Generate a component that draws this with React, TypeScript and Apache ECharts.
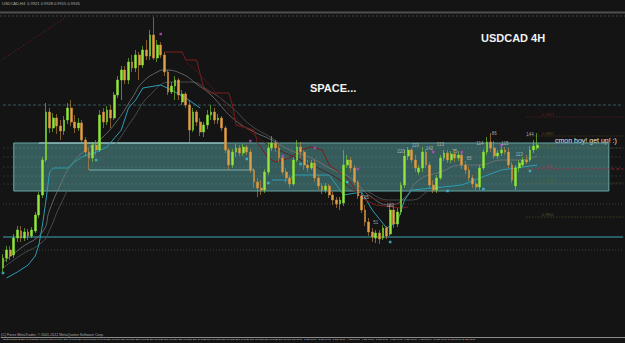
import React, { useEffect, useRef } from "react";
import * as echarts from "echarts";

const BG = "#141414";

const opens = [
  0.9750, 0.9760, 0.9768, 0.9763, 0.9780, 0.9787, 0.9780, 0.9786, 0.9782, 0.9787,
  0.9803, 0.9823, 0.9858, 0.9906, 0.9890, 0.9900, 0.9892, 0.9887, 0.9898, 0.9910,
  0.9896, 0.9890, 0.9895, 0.9878, 0.9866, 0.9860, 0.9873, 0.9868, 0.9906, 0.9896,
  0.9908, 0.9900, 0.9923, 0.9938, 0.9948, 0.9938, 0.9956, 0.9950, 0.9963, 0.9953,
  0.9968, 0.9962, 0.9983, 0.9960, 0.9973, 0.9963, 0.9946, 0.9926, 0.9932, 0.9938,
  0.9916, 0.9924, 0.9913, 0.9888, 0.9906, 0.9896, 0.9886, 0.9893, 0.9903, 0.9906,
  0.9898, 0.9900, 0.9890, 0.9868, 0.9853, 0.9866, 0.9870, 0.9865, 0.9871, 0.9866,
  0.9848, 0.9836, 0.9830, 0.9828, 0.9846, 0.9870, 0.9875, 0.9870, 0.9860, 0.9846,
  0.9840, 0.9834, 0.9858, 0.9871, 0.9866, 0.9853, 0.9850, 0.9855, 0.9840, 0.9832,
  0.9828, 0.9832, 0.9823, 0.9818, 0.9814, 0.9815, 0.9853, 0.9858, 0.9850, 0.9836,
  0.9822, 0.9808, 0.9796, 0.9786, 0.9780, 0.9785, 0.9780, 0.9790, 0.9784, 0.9808,
  0.9794, 0.9806, 0.9833, 0.9862, 0.9868, 0.9858, 0.9846, 0.9850, 0.9866, 0.9853,
  0.9833, 0.9828, 0.9840, 0.9860, 0.9865, 0.9858, 0.9864, 0.9860, 0.9863, 0.9853,
  0.9848, 0.9840, 0.9834, 0.9831, 0.9850, 0.9866, 0.9876, 0.9870, 0.9862, 0.9865,
  0.9868, 0.9866, 0.9853, 0.9832, 0.9850, 0.9853, 0.9858, 0.9858, 0.9868, 0.9870,
];
const closes = [
  0.9760, 0.9768, 0.9762, 0.9780, 0.9788, 0.9780, 0.9786, 0.9782, 0.9788, 0.9803,
  0.9823, 0.9858, 0.9906, 0.9890, 0.9900, 0.9892, 0.9887, 0.9898, 0.9910, 0.9896,
  0.9890, 0.9895, 0.9878, 0.9866, 0.9860, 0.9873, 0.9868, 0.9903, 0.9896, 0.9908,
  0.9900, 0.9923, 0.9938, 0.9948, 0.9938, 0.9956, 0.9950, 0.9963, 0.9953, 0.9968,
  0.9962, 0.9983, 0.9960, 0.9973, 0.9963, 0.9946, 0.9926, 0.9932, 0.9938, 0.9923,
  0.9924, 0.9913, 0.9888, 0.9906, 0.9896, 0.9886, 0.9893, 0.9903, 0.9906, 0.9898,
  0.9900, 0.9890, 0.9868, 0.9853, 0.9866, 0.9870, 0.9865, 0.9871, 0.9866, 0.9848,
  0.9836, 0.9830, 0.9828, 0.9846, 0.9870, 0.9875, 0.9870, 0.9860, 0.9846, 0.9840,
  0.9834, 0.9858, 0.9871, 0.9866, 0.9853, 0.9850, 0.9855, 0.9840, 0.9832, 0.9828,
  0.9832, 0.9823, 0.9818, 0.9814, 0.9818, 0.9853, 0.9858, 0.9850, 0.9836, 0.9822,
  0.9808, 0.9796, 0.9786, 0.9781, 0.9785, 0.9779, 0.9790, 0.9782, 0.9808, 0.9794,
  0.9806, 0.9833, 0.9862, 0.9868, 0.9858, 0.9850, 0.9850, 0.9866, 0.9853, 0.9833,
  0.9828, 0.9840, 0.9860, 0.9865, 0.9858, 0.9864, 0.9860, 0.9863, 0.9853, 0.9848,
  0.9840, 0.9834, 0.9831, 0.9850, 0.9866, 0.9876, 0.9870, 0.9862, 0.9865, 0.9868,
  0.9866, 0.9853, 0.9838, 0.9850, 0.9855, 0.9858, 0.9856, 0.9868, 0.9872, 0.9873,
];
const lows = [
  0.9746, 0.9756, 0.9758, 0.9760, 0.9776, 0.9776, 0.9777, 0.9778, 0.9780, 0.9785,
  0.9800, 0.9820, 0.9856, 0.9885, 0.9886, 0.9884, 0.9878, 0.9883, 0.9894, 0.9892,
  0.9885, 0.9887, 0.9874, 0.9862, 0.9848, 0.9856, 0.9863, 0.9866, 0.9890, 0.9893,
  0.9890, 0.9898, 0.9920, 0.9918, 0.9934, 0.9934, 0.9946, 0.9946, 0.9938, 0.9950,
  0.9958, 0.9958, 0.9958, 0.9956, 0.9960, 0.9942, 0.9923, 0.9924, 0.9918, 0.9918,
  0.9913, 0.9910, 0.9876, 0.9886, 0.9892, 0.9882, 0.9881, 0.9889, 0.9898, 0.9894,
  0.9894, 0.9887, 0.9865, 0.9848, 0.9850, 0.9861, 0.9862, 0.9862, 0.9863, 0.9845,
  0.9830, 0.9821, 0.9823, 0.9825, 0.9843, 0.9867, 0.9866, 0.9856, 0.9843, 0.9835,
  0.9830, 0.9832, 0.9856, 0.9860, 0.9848, 0.9846, 0.9848, 0.9836, 0.9828, 0.9824,
  0.9825, 0.9820, 0.9813, 0.9810, 0.9808, 0.9812, 0.9850, 0.9846, 0.9833, 0.9819,
  0.9805, 0.9792, 0.9782, 0.9776, 0.9775, 0.9774, 0.9778, 0.9779, 0.9782, 0.9790,
  0.9791, 0.9803, 0.9830, 0.9858, 0.9855, 0.9846, 0.9843, 0.9846, 0.9850, 0.9830,
  0.9825, 0.9825, 0.9838, 0.9857, 0.9855, 0.9855, 0.9856, 0.9857, 0.9849, 0.9844,
  0.9837, 0.9830, 0.9828, 0.9828, 0.9848, 0.9863, 0.9866, 0.9859, 0.9859, 0.9862,
  0.9863, 0.9850, 0.9835, 0.9828, 0.9846, 0.9851, 0.9854, 0.9856, 0.9865, 0.9868,
];
const highs = [
  0.9764, 0.9772, 0.9772, 0.9784, 0.9792, 0.9792, 0.9790, 0.9789, 0.9791, 0.9806,
  0.9826, 0.9861, 0.9915, 0.9910, 0.9905, 0.9904, 0.9898, 0.9902, 0.9915, 0.9918,
  0.9903, 0.9900, 0.9898, 0.9881, 0.9870, 0.9876, 0.9878, 0.9908, 0.9910, 0.9912,
  0.9913, 0.9926, 0.9942, 0.9952, 0.9952, 0.9960, 0.9963, 0.9968, 0.9966, 0.9972,
  0.9978, 0.9988, 1.0001, 0.9978, 0.9976, 0.9966, 0.9948, 0.9936, 0.9942, 0.9940,
  0.9928, 0.9926, 0.9918, 0.9910, 0.9908, 0.9900, 0.9896, 0.9908, 0.9913, 0.9910,
  0.9904, 0.9902, 0.9892, 0.9870, 0.9869, 0.9874, 0.9873, 0.9874, 0.9873, 0.9869,
  0.9850, 0.9840, 0.9838, 0.9849, 0.9875, 0.9882, 0.9878, 0.9873, 0.9862, 0.9850,
  0.9843, 0.9861, 0.9878, 0.9876, 0.9868, 0.9858, 0.9858, 0.9858, 0.9843, 0.9835,
  0.9835, 0.9834, 0.9826, 0.9821, 0.9821, 0.9868, 0.9863, 0.9861, 0.9853, 0.9838,
  0.9825, 0.9813, 0.9800, 0.9790, 0.9788, 0.9788, 0.9793, 0.9792, 0.9813, 0.9811,
  0.9810, 0.9836, 0.9868, 0.9871, 0.9870, 0.9863, 0.9853, 0.9871, 0.9869, 0.9856,
  0.9838, 0.9843, 0.9863, 0.9868, 0.9868, 0.9867, 0.9868, 0.9867, 0.9866, 0.9857,
  0.9851, 0.9843, 0.9837, 0.9853, 0.9869, 0.9881, 0.9885, 0.9877, 0.9868, 0.9872,
  0.9871, 0.9870, 0.9856, 0.9853, 0.9858, 0.9861, 0.9863, 0.9872, 0.9878, 0.9885,
];

// indicator lines: [bar index, price]
const maFast: [number, number][] = [
  [0, 0.9756], [5, 0.9770], [11, 0.9786], [13, 0.9808], [16, 0.9833], [19, 0.9853],
  [23, 0.9868], [27, 0.9878], [32, 0.9898], [36, 0.9920], [39, 0.9936], [43, 0.9946],
  [45, 0.9948], [50, 0.9944], [54, 0.9934], [58, 0.9923], [64, 0.9900], [69, 0.9888],
  [75, 0.9878], [80, 0.9868], [86, 0.9860], [91, 0.9850], [97, 0.9840], [102, 0.9823],
  [108, 0.9813], [112, 0.9820], [116, 0.9838], [122, 0.9846], [128, 0.9853], [133, 0.9853],
  [139, 0.9858], [144, 0.9858], [149, 0.9862],
];
const maSlow: [number, number][] = [
  [0, 0.9750], [5, 0.9763], [11, 0.9776], [13, 0.9788], [16, 0.9813], [20, 0.9838],
  [25, 0.9853], [30, 0.9868], [36, 0.9898], [41, 0.9923], [47, 0.9936], [52, 0.9936],
  [58, 0.9926], [64, 0.9910], [69, 0.9893], [75, 0.9880], [80, 0.9868], [86, 0.9858],
  [91, 0.9850], [97, 0.9838], [102, 0.9826], [108, 0.9818], [114, 0.9818], [119, 0.9828],
  [125, 0.9838], [130, 0.9843], [136, 0.9846], [141, 0.9850], [149, 0.9853],
];
const cyanA: [number, number][] = [
  [1, 0.9740], [4, 0.9746], [7, 0.9753], [9, 0.9762], [10, 0.9773], [11, 0.9793],
  [12, 0.9818], [13, 0.9846], [14, 0.9850], [18, 0.9850], [20, 0.9856], [22, 0.9861],
  [26, 0.9866], [29, 0.9871], [33, 0.9888], [35, 0.9910], [37, 0.9918], [39, 0.9930],
  [44, 0.9933], [47, 0.9928], [51, 0.9920], [55, 0.9910],
];
const cyanB: [number, number][] = [
  [75, 0.9838], [80, 0.9838], [81, 0.9843], [91, 0.9843], [95, 0.9823], [100, 0.9826],
  [103, 0.9808], [107, 0.9790], [110, 0.9796], [112, 0.9818], [114, 0.9828], [120, 0.9830],
  [128, 0.9833], [133, 0.9840], [139, 0.9848], [149, 0.9853],
];
const redA: [number, number][] = [
  [45, 0.9966], [50, 0.9966], [51, 0.9958], [54, 0.9958], [56, 0.9930], [58, 0.9925],
  [63, 0.9925], [64, 0.9913], [65, 0.9893], [70, 0.9888], [71, 0.9875], [74, 0.9860],
  [76, 0.9856], [80, 0.9860], [83, 0.9868], [86, 0.9871], [89, 0.9868], [91, 0.9853],
  [96, 0.9840], [100, 0.9820], [104, 0.9813], [111, 0.9810], [113, 0.9811],
];
const redB: [number, number][] = [
  [51, 0.9956], [55, 0.9943], [61, 0.9918], [66, 0.9896], [72, 0.9878], [77, 0.9868],
  [83, 0.9858], [89, 0.9848], [94, 0.9838], [100, 0.9823], [105, 0.9818], [111, 0.9813],
];

// fractal markers
const fractalUp: [number, number][] = [
  [44, 0.9984], [69, 0.9877], [78, 0.9862], [87, 0.9870], [99, 0.9849],
  [120, 0.9866], [128, 0.9866], [139, 0.9873],
];
const fractalDown: [number, number][] = [
  [0, 0.9745], [26, 0.9858], [68, 0.9859], [74, 0.9835], [83, 0.9854], [96, 0.9836],
  [108, 0.9776], [124, 0.9827], [134, 0.9829], [147, 0.9847],
];

// swing count labels
const swingLabels: [number, number, string][] = [
  [101, 0.9821, "105"], [104, 0.9796, "51"], [108, 0.9813, "182"], [111, 0.9867, "220"],
  [115, 0.9873, "119"], [119, 0.9870, "142"], [122, 0.9874, "113"], [126, 0.9867, "75"],
  [130, 0.9860, "65"], [133, 0.9875, "114"], [137, 0.9885, "86"], [140, 0.9875, "115"],
  [144, 0.9864, "113"], [147, 0.9884, "144"],
];

// range box and levels
const boxTop = 0.9875;
const boxBottom = 0.9827;
const supportLevel = 0.9781;
const fullLevels: [number, string, number[] | string][] = [
  [0.9913, "#34595a", [3, 2]],
  [0.9814, "#3a4640", [1, 2]],
  [0.9768, "#3a4640", [1, 2]],
];
const boxInnerLevels = [0.9870, 0.9861, 0.9851, 0.9842, 0.9834];
const rightLevels: [number, string, string][] = [
  [0.9901, "0.9901", "#7a2424"],
  [0.9882, "0.9882", "#6e5226"],
  [0.9870, "0.9870", "#5e6a3a"],
  [0.9849, "0.9849", "#b0304a"],
  [0.9835, "0.9835", "#5e6a3a"],
  [0.9801, "0.9801", "#5e6a3a"],
];
// S/R segments: [from bar, to bar, price]
const srSegments: [number, number, number, string][] = [
  [10, 62, boxTop, "#a9d4d4"],
  [24, 70, 0.9848, "#7fb0b0"],
];
const trendLine: [number, number][] = [[0, 0.9959], [18, 1.0002]];

const TOTAL = 174;
const MONTHS = ["Jan", "Feb", "Mar", "Apr", "May", "Jun", "Jul", "Aug", "Sep", "Oct", "Nov", "Dec"];
function buildCategories(n: number): string[] {
  const out: string[] = [];
  let t = Date.UTC(2012, 8, 12, 0);
  while (out.length < n) {
    const d = new Date(t);
    const wd = d.getUTCDay();
    if (wd !== 0 && wd !== 6) {
      const day = `${d.getUTCDate()} ${MONTHS[d.getUTCMonth()]}`;
      out.push(out.length === 0 ? `${day} 2012` : `${day} ${String(d.getUTCHours()).padStart(2, "0")}:00`);
    }
    t += 4 * 3600 * 1000;
  }
  return out;
}
const cats = buildCategories(TOTAL);
const LAST = TOTAL - 1;

const toLine = (pts: [number, number][]) => pts.map(([i, p]) => [cats[i], p]);

function hLine(name: string, from: number, to: number, v: number, color: string, width: number, type: any, z = 1.5) {
  return {
    name,
    type: "line",
    data: [[cats[from], v], [cats[to], v]],
    symbol: "none",
    silent: true,
    z,
    lineStyle: { color, width, type },
  };
}

function buildOption(): any {
  const candleData = opens.map((o, i) => [o, closes[i], lows[i], highs[i]]);
  const lineSeries = (name: string, pts: [number, number][], color: string, width: number, smooth: boolean, type: any = "solid") => ({
    name,
    type: "line",
    data: toLine(pts),
    symbol: "none",
    smooth,
    z: 2,
    silent: true,
    lineStyle: { color, width, type },
  });

  const levels: any[] = [
    hLine("support", 0, LAST, supportLevel, "#3aa7b2", 1, "solid", 2),
    ...fullLevels.map(([v, c, t], k) => hLine("lvl" + k, 0, LAST, v, c, 1, t)),
    ...boxInnerLevels.map((v, k) => hLine("inner" + k, 0, LAST, v, "rgba(150,200,200,0.25)", 0.7, [2, 2])),
    ...rightLevels.map(([v, _t, c], k) => hLine("right" + k, 146, LAST, v, c, 0.8, c === "#b0304a" ? [3, 2] : [1, 2])),
    ...srSegments.map(([a, b, v, c], k) => hLine("sr" + k, a, b, v, c, 1, "solid", 2)),
    lineSeries("trend", trendLine, "#7a2222", 1, false, [1, 2]),
  ];

  return {
    animation: false,
    backgroundColor: BG,
    grid: { left: 0, right: 0, top: 14, bottom: 6, containLabel: false },
    xAxis: {
      type: "category",
      data: cats,
      boundaryGap: true,
      axisLine: { show: true, lineStyle: { color: "#8a8a8a", width: 1 } },
      axisTick: { show: false },
      splitLine: { show: false },
      axisLabel: {
        show: true,
        fontSize: 2.4,
        color: "#dcdcdc",
        margin: 1.5,
        fontFamily: "Liberation Sans",
        align: "left",
        interval: (idx: number) => idx % 4 === 0 && idx <= 128,
      },
    },
    yAxis: {
      type: "value",
      min: 0.9681,
      max: 1.0004,
      show: false,
      splitLine: { show: false },
    },
    series: [
      {
        name: "box",
        type: "line",
        data: [],
        z: 1,
        silent: true,
        markArea: {
          silent: true,
          itemStyle: { color: "rgba(80,150,150,0.55)", borderColor: "#69a6a6", borderWidth: 1 },
          data: [[{ xAxis: cats[3], yAxis: boxTop }, { xAxis: cats[169], yAxis: boxBottom }]],
        },
      },
      ...levels,
      lineSeries("maSlow", maSlow, "#4f5a5a", 0.8, true),
      lineSeries("maFast", maFast, "#7a7a7a", 0.8, true),
      lineSeries("cyanA", cyanA, "#2c9db4", 1, false),
      lineSeries("cyanB", cyanB, "#2c9db4", 1, false),
      lineSeries("redA", redA, "#7e1c1c", 1, false),
      lineSeries("redB", redB, "#561a1a", 0.8, true),
      {
        name: "USDCAD",
        type: "candlestick",
        data: candleData,
        z: 3,
        barWidth: 2.3,
        silent: true,
        itemStyle: {
          color: "#96e53c",
          color0: "#dea048",
          borderColor: "#7fd630",
          borderColor0: "#cc8d3b",
          borderWidth: 0.6,
        },
      },
      {
        name: "fractalUp",
        type: "scatter",
        data: toLine(fractalUp),
        symbol: "rect",
        symbolSize: 2.5,
        z: 4,
        silent: true,
        itemStyle: { color: "#c24ac4" },
      },
      {
        name: "fractalDown",
        type: "scatter",
        data: toLine(fractalDown),
        symbol: "rect",
        symbolSize: 2.5,
        z: 4,
        silent: true,
        itemStyle: { color: "#3cc6d8" },
      },
      {
        name: "swings",
        type: "scatter",
        data: swingLabels.map(([i, p, t]) => ({ value: [cats[i], p], name: t })),
        symbolSize: 1,
        z: 5,
        silent: true,
        itemStyle: { color: "rgba(0,0,0,0)" },
        label: { show: true, position: "inside", formatter: "{b}", fontSize: 4.5, color: "#c8c8c8", fontFamily: "Liberation Sans" },
      },
      {
        name: "levelLabels",
        type: "scatter",
        data: rightLevels.map(([v, t, c]) => ({ value: [cats[152], v], name: t, label: { color: c } })),
        symbolSize: 1,
        z: 5,
        silent: true,
        itemStyle: { color: "rgba(0,0,0,0)" },
        label: { show: true, position: "top", distance: 0.5, formatter: "{b}", fontSize: 4, fontFamily: "Liberation Sans" },
      },
    ],
    graphic: [
      { type: "line", shape: { x1: 0, y1: 12.5, x2: 625, y2: 12.5 }, style: { stroke: "#505050", lineWidth: 2 }, silent: true },
      { type: "line", shape: { x1: 0, y1: 16, x2: 625, y2: 16 }, style: { stroke: "#344444", lineWidth: 1, lineDash: [2, 2] }, silent: true },
      {
        type: "text", left: 2, top: 1,
        style: { text: "USDCAD,H4  0.9921 0.9928 0.9915 0.9926", fontSize: 4, fill: "#b0b0b0", fontFamily: "Liberation Sans" },
        silent: true,
      },
      {
        type: "text", left: 1, top: 333,
        style: { text: "(C) Forex MetaTrader, \u00a9 2001-2012 MetaQuotes Software Corp.", fontSize: 3.6, fill: "#a8a8a8", fontFamily: "Liberation Sans" },
        silent: true,
      },
      {
        type: "text", x: 481, y: 38,
        style: { text: "USDCAD 4H", fontSize: 11, fontWeight: "bold", fill: "#f2f2f2", fontFamily: "Liberation Sans", verticalAlign: "middle" },
        silent: true,
      },
      {
        type: "text", x: 310, y: 88,
        style: { text: "SPACE...", fontSize: 11, fontWeight: "bold", fill: "#f2f2f2", fontFamily: "Liberation Sans", verticalAlign: "middle" },
        silent: true,
      },
      {
        type: "text", x: 555, y: 140.5,
        style: { text: "cmon boy! get up! :)", fontSize: 7, fill: "#e8e8e8", fontFamily: "Liberation Sans", verticalAlign: "middle" },
        silent: true,
      },
    ],
  };
}

export default function App() {
  const ref = useRef<HTMLDivElement>(null);
  useEffect(() => {
    document.body.style.margin = "0";
    document.body.style.background = BG;
    const chart = echarts.init(ref.current as HTMLDivElement, undefined, { renderer: "svg" });
    chart.setOption(buildOption());
    return () => chart.dispose();
  }, []);
  return <div ref={ref} style={{ width: 625, height: 343, background: BG }} />;
}
